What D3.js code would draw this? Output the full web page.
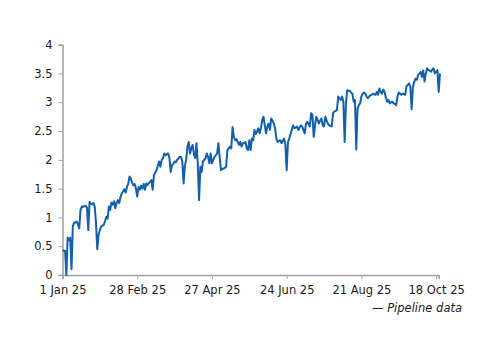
<!DOCTYPE html>
<html>
<head>
<meta charset="utf-8">
<script src="https://cdn.jsdelivr.net/npm/d3@7"></script>
<style>
  body { margin: 0; background: #fff; }
  svg text { font-family: "DejaVu Sans", Verdana, sans-serif; fill: #1a1a1a; }
</style>
</head>
<body>
<div id="chart"></div>
<script>
// daily readings, starting 1 Jan 2025
const startDate = "2025-01-01";
const pipelineValues = [
  0.43, 0.42, 0.42, 0.00, 0.65, 0.60, 0.65, 0.10, 0.84, 0.91,
  0.91, 0.93, 0.88, 0.81, 1.13, 1.19, 1.18, 1.20, 1.20, 1.17,
  0.78, 1.27, 1.24, 1.23, 1.25, 1.19, 0.90, 0.45, 0.70, 0.78,
  0.84, 0.86, 0.87, 0.93, 1.01, 0.98, 1.19, 1.13, 1.26, 1.22,
  1.28, 1.16, 1.25, 1.30, 1.25, 1.35, 1.42, 1.45, 1.49, 1.43,
  1.53, 1.58, 1.71, 1.68, 1.60, 1.56, 1.58, 1.50, 1.36, 1.53,
  1.48, 1.55, 1.50, 1.58, 1.48, 1.59, 1.56, 1.60, 1.62, 1.65,
  1.48, 1.74, 1.78, 1.82, 1.90, 1.97, 1.88, 2.00, 2.03, 2.11,
  2.08, 2.10, 2.11, 2.03, 1.79, 1.91, 1.93, 1.97, 1.96, 2.00,
  2.02, 2.05, 2.05, 1.97, 1.59, 1.90, 2.00, 2.23, 2.31, 2.11,
  2.20, 2.26, 2.10, 2.03, 2.29, 1.94, 1.30, 1.88, 1.79, 1.97,
  2.00, 2.03, 2.11, 2.05, 1.94, 2.11, 1.94, 2.00, 2.05, 2.08,
  2.11, 2.29, 2.05, 1.82, 1.84, 1.85, 1.86, 1.88, 2.17, 2.20,
  2.23, 2.20, 2.57, 2.40, 2.34, 2.36, 2.31, 2.26, 2.31, 2.23,
  2.29, 2.29, 2.31, 2.20, 2.17, 2.34, 2.17, 2.37, 2.34, 2.52,
  2.45, 2.49, 2.55, 2.46, 2.55, 2.69, 2.75, 2.60, 2.46, 2.58,
  2.63, 2.52, 2.72, 2.68, 2.63, 2.55, 2.37, 2.31, 2.33, 2.34,
  2.29, 2.33, 2.37, 2.26, 1.82, 2.31, 2.37, 2.45, 2.52, 2.60,
  2.55, 2.56, 2.58, 2.52, 2.56, 2.60, 2.58, 2.52, 2.46, 2.63,
  2.66, 2.62, 2.58, 2.81, 2.78, 2.40, 2.60, 2.75, 2.69, 2.63,
  2.68, 2.72, 2.60, 2.58, 2.75, 2.68, 2.63, 2.60, 2.59, 2.58,
  2.81, 2.84, 2.85, 2.86, 3.10, 3.07, 3.04, 3.10, 3.01, 2.31,
  2.98, 3.21, 3.20, 3.20, 3.17, 3.15, 3.01, 3.04, 2.18, 2.89,
  2.95, 2.98, 3.10, 3.15, 3.17, 3.15, 3.10, 3.07, 3.10, 3.12,
  3.13, 3.15, 3.14, 3.13, 3.18, 3.13, 3.24, 3.18, 3.15, 3.22,
  3.18, 3.08, 3.01, 3.04, 2.98, 3.00, 3.01, 2.98, 2.97, 2.95,
  3.10, 3.17, 3.15, 3.13, 3.15, 3.14, 3.13, 3.28, 3.30, 3.33,
  3.27, 2.88, 3.27, 3.35, 3.41, 3.39, 3.47, 3.50, 3.53, 3.44,
  3.55, 3.36, 3.50, 3.59, 3.56, 3.55, 3.53, 3.57, 3.59, 3.50,
  3.53, 3.56, 3.18, 3.50
];
const xTickDates = ["2025-01-01", "2025-02-28", "2025-04-27", "2025-06-24", "2025-08-21", "2025-10-18"];
const yTicks = [0, 0.5, 1, 1.5, 2, 2.5, 3, 3.5, 4];
const legendLabel = "Pipeline data";

const parse = d3.utcParse("%Y-%m-%d");
const fmt = d3.utcFormat("%-d %b %y");
const start = parse(startDate);
const data = pipelineValues.map((v, i) => ({date: d3.utcDay.offset(start, i), value: v}));

const W = 500, H = 353;
const svg = d3.select("#chart").append("svg")
    .attr("width", W)
    .attr("height", H);

const x = d3.scaleUtc()
    .domain([start, parse("2025-10-20")])
    .range([62.5, 438.7]);

const y = d3.scaleLinear()
    .domain([0, 4])
    .range([275, 44.7]);

// y axis
const yAxis = svg.append("g")
    .attr("transform", "translate(62.5,0)")
    .call(d3.axisLeft(y).tickValues(yTicks).tickSize(4).tickPadding(6).tickFormat(d3.format("")));

// x axis
const xAxis = svg.append("g")
    .attr("transform", "translate(0,275)")
    .call(d3.axisBottom(x).tickValues(xTickDates.map(parse)).tickSize(4).tickPadding(7).tickFormat(fmt));

[yAxis, xAxis].forEach(a => {
    a.selectAll("path.domain").attr("stroke", "#a0a0a0").attr("stroke-width", 1.5);
    a.selectAll(".tick line").attr("stroke", "#a0a0a0").attr("stroke-width", 1);
    a.selectAll("text").attr("font-size", 11.5).attr("fill", "#1a1a1a")
        .attr("font-family", "'DejaVu Sans', Verdana, sans-serif");
});

const line = d3.line()
    .x(d => x(d.date))
    .y(d => y(d.value));

svg.append("path")
    .datum(data)
    .attr("fill", "none")
    .attr("stroke", "#1160b0")
    .attr("stroke-width", 2)
    .attr("stroke-linejoin", "round")
    .attr("d", line);

// legend
svg.append("text")
    .attr("x", 462)
    .attr("y", 311.5)
    .attr("text-anchor", "end")
    .attr("font-size", 11.5)
    .attr("font-style", "italic")
    .text("\u2014 " + legendLabel);
</script>
</body>
</html>
